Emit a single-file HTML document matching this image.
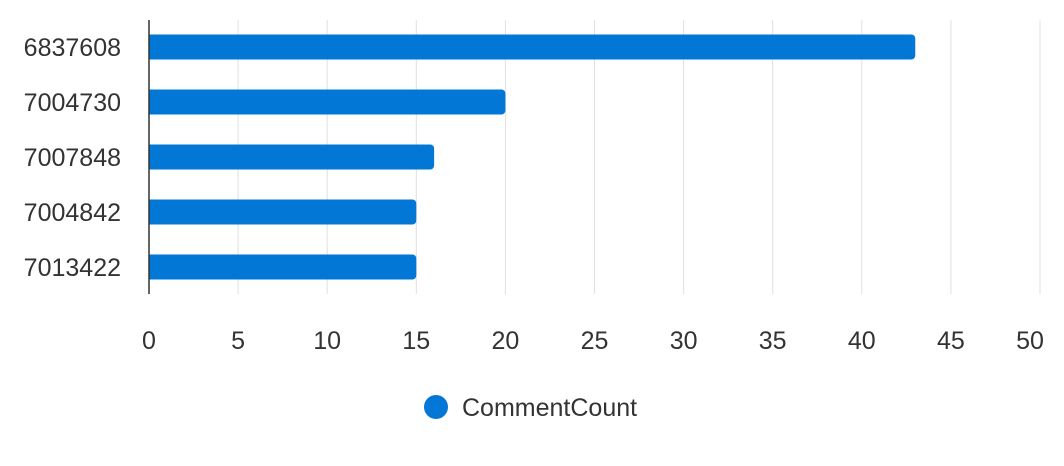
<!DOCTYPE html>
<html><head><meta charset="utf-8"><style>
body{margin:0;background:#fff;}
svg{display:block;font-family:"Liberation Sans",Arial,sans-serif;}
</style></head><body>
<svg id="chart" width="1064" height="466"></svg>
<script>
const categories=["6837608","7004730","7007848","7004842","7013422"];
const values=[43,20,16,15,15];
const ticks=[0,5,10,15,20,25,30,35,40,45,50];
const NS="http://www.w3.org/2000/svg";
const svg=document.getElementById('chart');
const x0=149,x1=1040,xMax=50,yTop=20,bandH=55,barH=25;
function xs(v){return x0+(x1-x0)*v/xMax;}
function yc(i){return 47+i*bandH;}
function mk(t,a,p){const e=document.createElementNS(NS,t);for(const k in a)e.setAttribute(k,a[k]);(p||svg).appendChild(e);return e;}
ticks.forEach((t,i)=>{
  if(t>0){const g=mk('line',{x1:xs(t),x2:xs(t),y1:yTop,y2:294,stroke:'#e0e0e0','stroke-width':1});
  
  }
  const lx=i===ticks.length-1?xs(t)-10:xs(t);
  const tx=mk('text',{x:lx,y:349,'text-anchor':'middle','font-size':25,fill:'#333'});
  tx.textContent=t;
  
  
});
categories.forEach((c,i)=>{
  const w=xs(values[i])-x0,y=yc(i)-barH/2;
  const b=mk('path',{d:`M${x0},${y}h${w-4}a4,4 0 0 1 4,4v${barH-8}a4,4 0 0 1 -4,4h${-(w-4)}z`,fill:'#0277d6'});
  
  
  const t=mk('text',{x:121,y:yc(i)+9,'text-anchor':'end','font-size':25,fill:'#333'});
  t.textContent=c;
  
  
});
const ax=mk('line',{x1:x0,x2:x0,y1:yTop,y2:294,stroke:'#333','stroke-width':1.5});


const lc=mk('circle',{cx:436,cy:407,r:12,fill:'#0277d6'});


const lt=mk('text',{x:462,y:416,'font-size':25,fill:'#333'});
lt.textContent='CommentCount';


</script>
</body></html>
